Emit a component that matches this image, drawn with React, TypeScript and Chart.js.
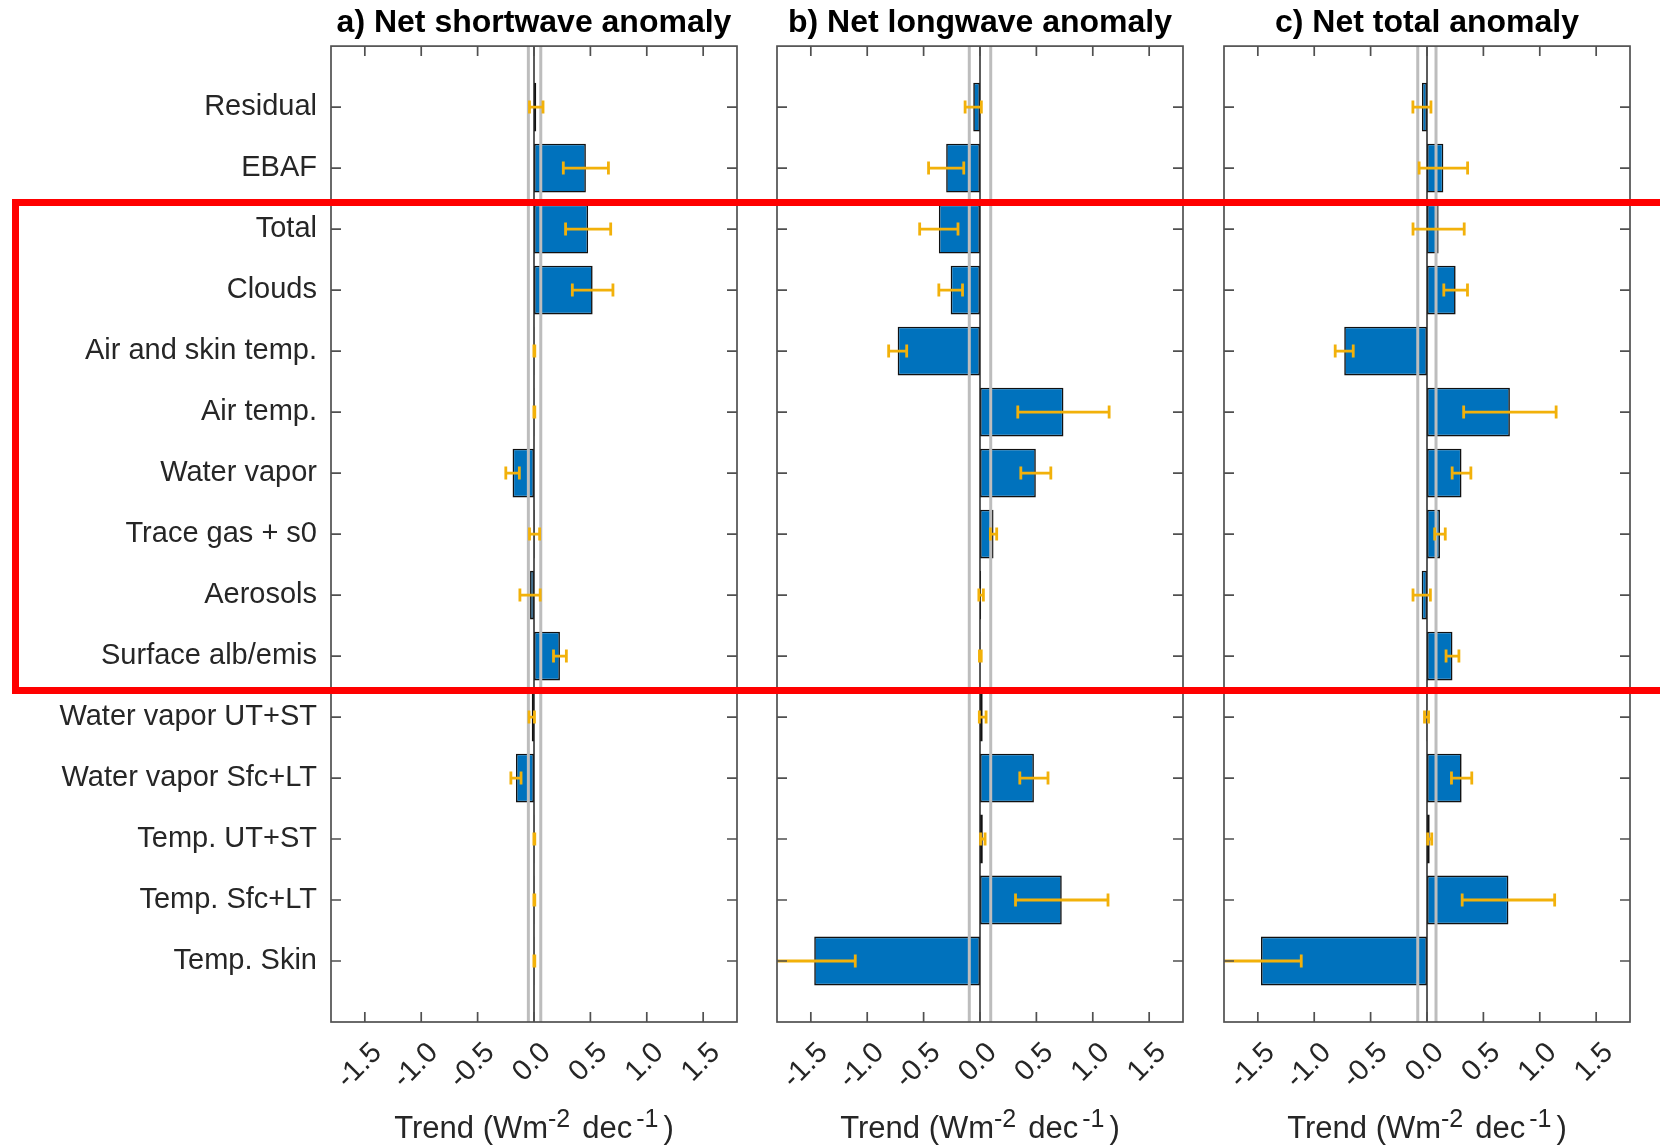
import React, { useEffect, useRef } from "react";
import { Chart, registerables } from "chart.js";

Chart.register(...registerables);

// Radiative-kernel decomposition of TOA flux trends (W m-2 per decade)
const categories = [
  "Residual",
  "EBAF",
  "Total",
  "Clouds",
  "Air and skin temp.",
  "Air temp.",
  "Water vapor",
  "Trace gas + s0",
  "Aerosols",
  "Surface alb/emis",
  "Water vapor UT+ST",
  "Water vapor Sfc+LT",
  "Temp. UT+ST",
  "Temp. Sfc+LT",
  "Temp. Skin",
];

const xTickValues = [-1.5, -1.0, -0.5, 0.0, 0.5, 1.0, 1.5];
const xMin = -1.8;
const xMax = 1.8;

// a) shortwave
const swTrend = [0.02, 0.46, 0.48, 0.52, 0.003, 0.003, -0.19, 0.005, -0.035, 0.23, -0.02, -0.16, 0.003, 0.003, 0.003];
const swError = [0.06, 0.2, 0.2, 0.18, 0.004, 0.004, 0.06, 0.045, 0.09, 0.057, 0.024, 0.045, 0.004, 0.004, 0.004];
const swBand = [-0.05, 0.06];

// b) longwave
const lwTrend = [-0.06, -0.3, -0.365, -0.26, -0.73, 0.74, 0.495, 0.12, 0.01, 0.003, 0.024, 0.478, 0.025, 0.725, -1.47];
const lwError = [0.072, 0.156, 0.17, 0.105, 0.08, 0.405, 0.133, 0.028, 0.02, 0.008, 0.03, 0.125, 0.02, 0.41, 0.364];
const lwBand = [-0.095, 0.095];

// c) net total
const totTrend = [-0.045, 0.145, 0.103, 0.254, -0.734, 0.735, 0.306, 0.115, -0.047, 0.226, -0.004, 0.307, 0.024, 0.722, -1.472];
const totError = [0.08, 0.215, 0.227, 0.105, 0.08, 0.41, 0.083, 0.047, 0.077, 0.057, 0.018, 0.09, 0.018, 0.41, 0.357];
const totBand = [-0.082, 0.08];

const FONT = '"Liberation Sans", Arial, Helvetica, sans-serif';
const BAR_BLUE = "#0072BD";
const ERR_ORANGE = "#F2B10A";
const BAND_GRAY = "#BDBDBD";
const AXIS_GRAY = "#505050";
const TEXT_DARK = "#262626";
const CANVAS_H = 1147;
const PLOT_BOTTOM = 1022;
const LABEL_AXIS_W = 331;

type PanelSpec = {
  title: string;
  values: number[];
  errors: number[];
  band: number[];
  showLabels: boolean;
  left: number;
  width: number;
  padLeft: number;
  padRight: number;
};

function drawAxisTitle(ctx: CanvasRenderingContext2D, cx: number, baseline: number) {
  const mainFont = `31px ${FONT}`;
  const supFont = `25px ${FONT}`;
  const pieces = [
    { text: "Trend (Wm", sup: false, gap: 0 },
    { text: "-2", sup: true, gap: 0 },
    { text: "dec", sup: false, gap: 12 },
    { text: "-1", sup: true, gap: 4 },
    { text: ")", sup: false, gap: 5 },
  ];
  const widths = pieces.map((p) => {
    ctx.font = p.sup ? supFont : mainFont;
    return ctx.measureText(p.text).width;
  });
  const total = pieces.reduce((s, p, i) => s + p.gap + widths[i], 0);
  let x = cx - total / 2;
  ctx.save();
  ctx.fillStyle = TEXT_DARK;
  ctx.textAlign = "left";
  ctx.textBaseline = "alphabetic";
  pieces.forEach((p, i) => {
    x += p.gap;
    ctx.font = p.sup ? supFont : mainFont;
    ctx.fillText(p.text, x, p.sup ? baseline - 11 : baseline);
    x += widths[i];
  });
  ctx.restore();
}

function makeDecorPlugin(spec: PanelSpec) {
  return {
    id: "panelDecor",
    afterDatasetsDraw(chart: any) {
      const { ctx, chartArea } = chart;
      const { left, right, top, bottom } = chartArea;
      const xs = chart.scales.x;
      const ys = chart.scales.y;
      ctx.save();
      ctx.beginPath();
      ctx.rect(left, top, right - left, bottom - top);
      ctx.clip();

      // uncertainty band edges
      ctx.strokeStyle = BAND_GRAY;
      ctx.lineWidth = 3;
      spec.band.forEach((b) => {
        const px = xs.getPixelForValue(b);
        ctx.beginPath();
        ctx.moveTo(px, top);
        ctx.lineTo(px, bottom);
        ctx.stroke();
      });

      // zero line
      const zx = xs.getPixelForValue(0);
      ctx.strokeStyle = "#262626";
      ctx.lineWidth = 1.5;
      ctx.beginPath();
      ctx.moveTo(zx, top);
      ctx.lineTo(zx, bottom);
      ctx.stroke();

      // error bars
      ctx.strokeStyle = ERR_ORANGE;
      ctx.lineWidth = 2.8;
      ctx.lineCap = "butt";
      const capHalf = 6.5;
      spec.values.forEach((v, i) => {
        const e = spec.errors[i];
        const y = ys.getPixelForValue(i);
        const x1 = xs.getPixelForValue(v - e);
        const x2 = xs.getPixelForValue(v + e);
        ctx.beginPath();
        ctx.moveTo(x1, y);
        ctx.lineTo(x2, y);
        ctx.moveTo(x1, y - capHalf);
        ctx.lineTo(x1, y + capHalf);
        ctx.moveTo(x2, y - capHalf);
        ctx.lineTo(x2, y + capHalf);
        ctx.stroke();
      });
      ctx.restore();
    },
    afterDraw(chart: any) {
      const { ctx, chartArea } = chart;
      const { left, right, top, bottom } = chartArea;
      const xs = chart.scales.x;
      const ys = chart.scales.y;
      ctx.save();
      ctx.strokeStyle = AXIS_GRAY;
      ctx.lineWidth = 1.7;
      ctx.strokeRect(left, top, right - left, bottom - top);
      const tl = 10;
      ctx.beginPath();
      categories.forEach((_, i) => {
        const y = ys.getPixelForValue(i);
        ctx.moveTo(left, y);
        ctx.lineTo(left + tl, y);
        ctx.moveTo(right, y);
        ctx.lineTo(right - tl, y);
      });
      xTickValues.forEach((v) => {
        const x = xs.getPixelForValue(v);
        ctx.moveTo(x, top);
        ctx.lineTo(x, top + tl);
        ctx.moveTo(x, bottom);
        ctx.lineTo(x, bottom - tl);
      });
      ctx.stroke();
      ctx.restore();
      drawAxisTitle(ctx, (left + right) / 2, 1138);
    },
  };
}

function Panel({ spec }: { spec: PanelSpec }) {
  const ref = useRef<HTMLCanvasElement>(null);
  useEffect(() => {
    if (!ref.current) return;
    const chart = new Chart(ref.current, {
      type: "bar",
      data: {
        datasets: [
          {
            data: spec.values.map((v, i) => ({ x: v, y: i })),
            backgroundColor: BAR_BLUE,
            borderColor: "#111111",
            borderWidth: 1.6,
            borderSkipped: false,
            barPercentage: 0.8,
            categoryPercentage: 1,
          } as any,
        ],
      },
      options: {
        indexAxis: "y",
        animation: false,
        responsive: false,
        events: [],
        layout: { padding: { left: spec.padLeft, right: spec.padRight, top: 0, bottom: 0 } },
        plugins: {
          legend: { display: false },
          tooltip: { enabled: false },
          title: {
            display: true,
            text: spec.title,
            fullSize: false,
            color: "#000000",
            font: { family: FONT, size: 32, weight: "bold" },
            padding: { top: 4, bottom: 3.7 },
          },
        },
        scales: {
          x: {
            type: "linear",
            min: xMin,
            max: xMax,
            offset: false,
            grid: { display: false, drawTicks: false },
            border: { display: false },
            afterBuildTicks: (s: any) => {
              s.ticks = xTickValues.map((v) => ({ value: v }));
            },
            afterFit: (s: any) => {
              s.height = CANVAS_H - PLOT_BOTTOM;
              s.paddingLeft = 0;
              s.paddingRight = 0;
            },
            ticks: {
              autoSkip: false,
              minRotation: 45,
              maxRotation: 45,
              padding: 14,
              color: TEXT_DARK,
              font: { family: FONT, size: 29 },
              // transparent backdrop keeps the rotated label anchored right of the tick
              showLabelBackdrop: true,
              backdropColor: "rgba(0,0,0,0)",
              backdropPadding: 0,
              callback: (v: any) => Number(v).toFixed(1),
            },
          },
          y: {
            type: "linear",
            min: -1,
            max: categories.length,
            reverse: true,
            offset: false,
            display: spec.showLabels,
            grid: { display: false, drawTicks: false },
            border: { display: false },
            afterBuildTicks: (s: any) => {
              s.ticks = categories.map((_, i) => ({ value: i }));
            },
            afterFit: (s: any) => {
              s.width = spec.showLabels ? LABEL_AXIS_W : 0;
              s.paddingTop = 0;
              s.paddingBottom = 0;
            },
            ticks: {
              autoSkip: false,
              padding: 14,
              color: TEXT_DARK,
              font: { family: FONT, size: 29 },
              callback: (v: any) => categories[Number(v)] ?? "",
            },
          },
        },
      } as any,
      plugins: [makeDecorPlugin(spec)],
    });
    return () => chart.destroy();
  }, [spec]);
  return (
    <canvas
      ref={ref}
      width={spec.width}
      height={CANVAS_H}
      style={{ position: "absolute", left: spec.left, top: 0, width: spec.width, height: CANVAS_H }}
    />
  );
}

const panels: PanelSpec[] = [
  { title: "a) Net shortwave anomaly", values: swTrend, errors: swError, band: swBand, showLabels: true, left: 0, width: 760, padLeft: 0, padRight: 23 },
  { title: "b) Net longwave anomaly", values: lwTrend, errors: lwError, band: lwBand, showLabels: false, left: 760, width: 440, padLeft: 17, padRight: 17 },
  { title: "c) Net total anomaly", values: totTrend, errors: totError, band: totBand, showLabels: false, left: 1200, width: 460, padLeft: 24, padRight: 30 },
];

export default function App() {
  return (
    <div
      style={{
        position: "fixed",
        left: 0,
        top: 0,
        width: 1660,
        height: CANVAS_H,
        overflow: "hidden",
        background: "#ffffff",
      }}
    >
      {panels.map((p) => (
        <Panel key={p.title} spec={p} />
      ))}
      {/* highlight box around the process-level terms */}
      <div
        style={{
          position: "absolute",
          left: 12,
          top: 199,
          width: 1700,
          height: 495,
          boxSizing: "border-box",
          border: "7.5px solid #FF0000",
          pointerEvents: "none",
        }}
      />
    </div>
  );
}
